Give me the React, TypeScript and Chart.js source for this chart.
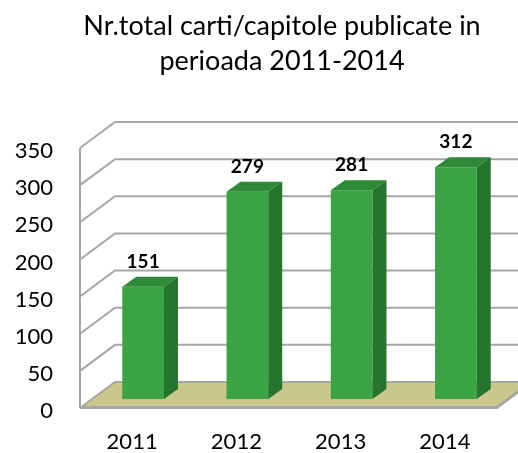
import React, { useEffect, useRef } from "react";
import { Chart, registerables } from "chart.js";

Chart.register(...registerables);

const titleLines = ["Nr.total carti/capitole publicate in", "perioada 2011-2014"];
const categories = ["2011", "2012", "2013", "2014"];
const values = [151, 279, 281, 312];
const yTickValues = [0, 50, 100, 150, 200, 250, 300, 350];

const FONT = "Lato, 'Open Sans', sans-serif";
const FRONT = "#3ca344";
const TOP = "#2e8a36";
const SIDE = "#26752c";
const FLOOR = "#c9c78b";
const GRID = "#a6a6a6";

// 3D projection offsets (pixels)
const FLOOR_DX = 35;
const FLOOR_DY = -26;
const BAR_OFF_DX = 11;
const BAR_OFF_DY = -9;
const BAR_DEPTH_DX = 14;
const BAR_DEPTH_DY = -10;

const titlePlugin = {
  id: "customTitle",
  afterDraw(chart: any) {
    const { ctx } = chart;
    ctx.save();
    ctx.fillStyle = "#000";
    ctx.font = `27px ${FONT}`;
    ctx.textAlign = "center";
    ctx.textBaseline = "middle";
    titleLines.forEach((line, i) => {
      ctx.fillText(line, 282, 26 + i * 35);
    });
    ctx.restore();
  },
};

const threeD = {
  id: "threeD",
  beforeDatasetsDraw(chart: any) {
    const { ctx, chartArea, scales } = chart;
    const { left, right, top, bottom } = chartArea;
    const y = scales.y;
    ctx.save();
    // floor
    ctx.fillStyle = FLOOR;
    ctx.beginPath();
    ctx.moveTo(left, bottom);
    ctx.lineTo(left + FLOOR_DX, bottom + FLOOR_DY);
    ctx.lineTo(right + FLOOR_DX, bottom + FLOOR_DY);
    ctx.lineTo(right, bottom);
    ctx.closePath();
    ctx.fill();
    // grid lines: left wall diagonals + back wall
    ctx.strokeStyle = GRID;
    ctx.lineWidth = 2;
    yTickValues.forEach((v) => {
      const yy = y.getPixelForValue(v);
      ctx.beginPath();
      ctx.moveTo(left, yy);
      ctx.lineTo(left + FLOOR_DX, yy + FLOOR_DY);
      ctx.lineTo(right + FLOOR_DX, yy + FLOOR_DY);
      ctx.stroke();
    });
    // front vertical axis
    ctx.beginPath();
    ctx.moveTo(left, top);
    ctx.lineTo(left, bottom);
    ctx.stroke();
    // floor front edge
    ctx.lineWidth = 3;
    ctx.beginPath();
    ctx.moveTo(left, bottom - 0.5);
    ctx.lineTo(right, bottom - 0.5);
    ctx.lineTo(right + FLOOR_DX, bottom + FLOOR_DY - 0.5);
    ctx.stroke();
    ctx.restore();
    ctx.save();
    ctx.translate(BAR_OFF_DX, BAR_OFF_DY);
  },
  afterDatasetsDraw(chart: any) {
    const { ctx } = chart;
    ctx.restore();
    const meta = chart.getDatasetMeta(0);
    ctx.save();
    meta.data.forEach((bar: any, i: number) => {
      const p = bar.getProps(["x", "y", "base", "width"], true);
      const l = p.x - p.width / 2 + BAR_OFF_DX;
      const r = p.x + p.width / 2 + BAR_OFF_DX;
      const t = p.y + BAR_OFF_DY;
      const b = p.base + BAR_OFF_DY;
      ctx.fillStyle = TOP;
      ctx.beginPath();
      ctx.moveTo(l, t);
      ctx.lineTo(l + BAR_DEPTH_DX, t + BAR_DEPTH_DY);
      ctx.lineTo(r + BAR_DEPTH_DX, t + BAR_DEPTH_DY);
      ctx.lineTo(r, t);
      ctx.closePath();
      ctx.fill();
      ctx.fillStyle = SIDE;
      ctx.beginPath();
      ctx.moveTo(r, t);
      ctx.lineTo(r + BAR_DEPTH_DX, t + BAR_DEPTH_DY);
      ctx.lineTo(r + BAR_DEPTH_DX, b + BAR_DEPTH_DY);
      ctx.lineTo(r, b);
      ctx.closePath();
      ctx.fill();
      ctx.fillStyle = "#000";
      ctx.font = `bold 19px ${FONT}`;
      ctx.textAlign = "center";
      ctx.textBaseline = "middle";
      ctx.fillText(String(values[i]), p.x + BAR_OFF_DX, t - 25);
    });
    ctx.restore();
  },
};

export default function App() {
  const canvasRef = useRef<HTMLCanvasElement>(null);

  useEffect(() => {
    document.body.style.margin = "0";
    const canvas = canvasRef.current;
    if (!canvas) return;
    const chart = new Chart(canvas, {
      type: "bar",
      data: {
        labels: categories,
        datasets: [
          {
            data: values,
            backgroundColor: FRONT,
            borderWidth: 0,
            barPercentage: 0.4,
            categoryPercentage: 1,
            clip: false as any,
          },
        ],
      },
      options: {
        animation: false,
        responsive: true,
        maintainAspectRatio: false,
        layout: { padding: { left: 0, right: 21, top: 148, bottom: 0 } },
        plugins: {
          legend: { display: false },
          tooltip: { enabled: false },
          title: { display: false },
        },
        scales: {
          x: {
            grid: { display: false, drawTicks: false },
            border: { display: false },
            afterFit: (scale: any) => {
              scale.height = 45;
            },
            ticks: {
              color: "#000",
              font: { family: FONT, size: 22, lineHeight: 1 },
              padding: 23,
            },
          },
          y: {
            min: 0,
            max: 350,
            grid: { display: false, drawTicks: false },
            border: { display: false },
            afterFit: (scale: any) => {
              scale.width = 80;
            },
            afterBuildTicks: (scale: any) => {
              scale.ticks = yTickValues.map((v) => ({ value: v }));
            },
            ticks: {
              color: "#000",
              font: { family: FONT, size: 22 },
              padding: 27,
              labelOffset: 3,
            },
          },
        },
      },
      plugins: [threeD, titlePlugin],
    });
    return () => chart.destroy();
  }, []);

  return (
    <div style={{ position: "relative", width: "518px", height: "453px" }}>
      <canvas ref={canvasRef} />
    </div>
  );
}
